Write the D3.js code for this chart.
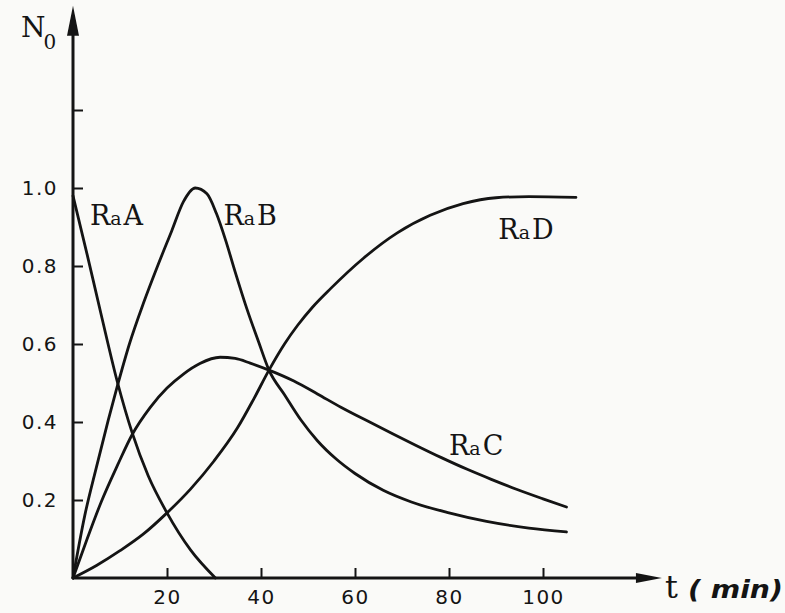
<!DOCTYPE html>
<html>
<head>
<meta charset="utf-8">
<script src="https://cdn.jsdelivr.net/npm/d3@7"></script>
<style>
  body { margin: 0; background: #fafaf8; }
  svg { display: block; }
</style>
</head>
<body>
<div id="content"></div>
<script>
// series: [t (min), N0]
const raA = [[0, 0.98], [3, 0.83], [6, 0.675], [9.5, 0.5], [12.6, 0.372], [16, 0.262], [20, 0.167], [25, 0.072], [30.3, 0]];
const raB = [[0, 0], [2.5, 0.16], [5, 0.285], [7.5, 0.405], [9.5, 0.495], [12, 0.6], [15, 0.705], [18, 0.8], [21, 0.89], [23.5, 0.965], [26, 1.0], [28.5, 0.985], [30.5, 0.935], [32.5, 0.865], [34.5, 0.785], [37, 0.69], [39.5, 0.605], [41.7, 0.533], [45, 0.47], [48.5, 0.405], [52, 0.352], [56, 0.305], [60, 0.268], [66, 0.225], [72, 0.195], [80, 0.167], [88, 0.145], [97, 0.128], [105, 0.118]];
const raC = [[0, 0], [3, 0.1], [6, 0.195], [9.5, 0.29], [12.6, 0.368], [16.4, 0.437], [20, 0.487], [23.5, 0.523], [27, 0.55], [31.3, 0.566], [34.5, 0.563], [37.7, 0.551], [41.7, 0.533], [47, 0.505], [52, 0.472], [57, 0.438], [62.6, 0.403], [68, 0.37], [73, 0.34], [78.5, 0.308], [84, 0.278], [89, 0.253], [94.5, 0.227], [100, 0.203], [105, 0.182]];
const raD = [[0, 0], [5, 0.032], [10, 0.07], [15, 0.113], [20, 0.167], [25, 0.228], [30, 0.3], [35, 0.385], [38.5, 0.46], [41.7, 0.533], [45, 0.6], [47.8, 0.648], [51, 0.695], [54.8, 0.742], [61.8, 0.82], [69, 0.885], [76, 0.93], [83, 0.96], [90, 0.975], [97, 0.978], [107, 0.976]];

const xTicks = [20, 40, 60, 80, 100];
const yTicks = [0.2, 0.4, 0.6, 0.8, 1.0, 1.2];
const yLabelled = [0.2, 0.4, 0.6, 0.8, 1.0];

// labels: name, t, N (left/baseline anchor)
const seriesLabels = [
    { name: "RaA", t: 3.6, n: 0.905 },
    { name: "RaB", t: 32, n: 0.905 },
    { name: "RaD", t: 90.5, n: 0.87 },
    { name: "RaC", t: 80, n: 0.315 }
];

let width = 785, height = 613;
let ink = "#141414";

let x = d3.scaleLinear().domain([0, 100]).range([73, 543]);
let y = d3.scaleLinear().domain([0, 1]).range([578, 188]);

let svg = d3.select("#content")
    .append("svg")
    .attr("width", width)
    .attr("height", height);

svg.append("rect").attr("width", width).attr("height", height).attr("fill", "#fafaf8");

// y axis, ticks pointing inwards
let yAxis = svg.append("g")
    .attr("transform", "translate(" + x(0) + ",0)")
    .call(d3.axisLeft(y)
        .tickValues(yTicks)
        .tickSize(-10)
        .tickPadding(15)
        .tickFormat(d => yLabelled.includes(d) ? d3.format(".1f")(d) : ""));

// x axis
let xAxis = svg.append("g")
    .attr("transform", "translate(0," + y(0) + ")")
    .call(d3.axisBottom(x)
        .tickValues(xTicks)
        .tickSize(-10)
        .tickPadding(12));

[yAxis, xAxis].forEach(g => {
    g.select(".domain").remove();
    g.selectAll(".tick line").attr("stroke", ink).attr("stroke-width", 2);
    g.selectAll(".tick text")
        .attr("fill", ink)
        .style("font-family", "'DejaVu Sans', sans-serif")
        .style("font-size", "20px")
        .style("letter-spacing", "1.5px");
});

// axis lines with arrow heads
let yTop = y(1.467), xEnd = x(125.3);
svg.append("line")
    .attr("x1", x(0)).attr("y1", y(0)).attr("x2", x(0)).attr("y2", yTop + 20)
    .attr("stroke", ink).attr("stroke-width", 3);
svg.append("path")
    .attr("d", `M${x(0)},${yTop} L${x(0) - 6},${yTop + 30} L${x(0) + 6},${yTop + 30} Z`)
    .attr("fill", ink);
svg.append("line")
    .attr("x1", x(0)).attr("y1", y(0)).attr("x2", xEnd - 20).attr("y2", y(0))
    .attr("stroke", ink).attr("stroke-width", 3);
svg.append("path")
    .attr("d", `M${xEnd},${y(0)} L${xEnd - 26},${y(0) - 5} L${xEnd - 26},${y(0) + 5} Z`)
    .attr("fill", ink);

// curves
let line = d3.line()
    .x(d => x(d[0]))
    .y(d => y(d[1]))
    .curve(d3.curveMonotoneX);

[raA, raB, raC, raD].forEach(s => {
    svg.append("path")
        .datum(s)
        .attr("d", line)
        .attr("fill", "none")
        .attr("stroke", ink)
        .attr("stroke-width", 2.8)
        .attr("stroke-linecap", "round");
});

// series labels
seriesLabels.forEach(l => {
    let t = svg.append("text")
        .attr("x", x(l.t))
        .attr("y", y(l.n))
        .attr("fill", ink)
        .style("font-family", "'DejaVu Serif', serif")
        .style("font-size", "27px");
    t.append("tspan").text("R");
    t.append("tspan").style("font-size", "19px").text("a");
    t.append("tspan").attr("dx", 2).text(l.name.slice(2));
});

// axis titles
let n0 = svg.append("text")
    .attr("x", 21).attr("y", 37)
    .attr("fill", ink)
    .style("font-family", "'DejaVu Serif', serif")
    .style("font-size", "28px");
n0.append("tspan").text("N");
n0.append("tspan").attr("dy", 12).attr("dx", -2).style("font-size", "20px").text("0");

svg.append("text")
    .attr("x", xEnd + 3).attr("y", y(0) + 20)
    .attr("fill", ink)
    .style("font-family", "'DejaVu Serif', serif")
    .style("font-size", "32px")
    .text("t");
svg.append("text")
    .attr("x", xEnd + 26).attr("y", y(0) + 20)
    .attr("fill", ink)
    .attr("textLength", 95)
    .attr("lengthAdjust", "spacingAndGlyphs")
    .style("font-family", "'DejaVu Sans', sans-serif")
    .style("font-size", "24px")
    .style("font-style", "italic")
    .style("font-weight", "bold")
    .text("( min)");
</script>
</body>
</html>
